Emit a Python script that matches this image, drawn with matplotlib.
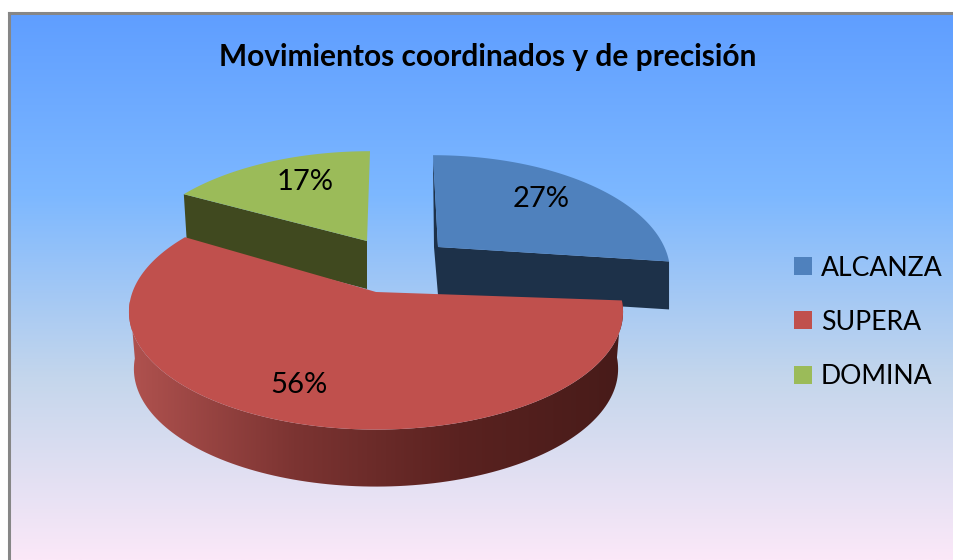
import matplotlib
matplotlib.use("Agg")
import matplotlib.pyplot as plt
import numpy as np
from matplotlib.colors import LinearSegmentedColormap
from matplotlib.patches import Polygon, Rectangle

plt.rcParams["font.family"] = ["Lato", "DejaVu Sans"]

labels = ["ALCANZA", "SUPERA", "DOMINA"]
shares = [27, 56, 17]
colors = ["#4f81bd", "#c0504d", "#9bbb59"]
walls = ["#1d3149", "#c0504d", "#40491f"]

# pie look: offset of each slice and wall height, in pixels
dx = [57, 0, -6]
dy = [-39, 0, -43]
depth = [48, 57, 48]
x_scale = [0.96, 1, 0.975]
apex_off = [(5, 0), (0, 6), (-3, -2)]
cx, cy, rx, ry, k = 376, 286, 241, 112, 0.22

fig = plt.figure(figsize=(9.54, 5.6), dpi=100)
ax = fig.add_axes([0, 0, 1, 1])

bg = LinearSegmentedColormap.from_list("bg", ["#5f9eff", "#7db8ff", "#c4d6ec", "#fbe8f8"])
ramp = np.linspace(0, 1, 256).reshape(-1, 1)
ax.imshow(ramp, cmap=bg, extent=[9, 954, 560, 13], aspect="auto", zorder=0)
ax.plot([9, 9], [560, 13], color="#868686", lw=2.2, zorder=1)
ax.plot([9, 954], [13, 13], color="#868686", lw=2.2, zorder=1)


def arc(a0, a1, i):
    t = np.radians(np.linspace(a0, a1, 150))
    X, Y = np.sin(t), np.cos(t)
    s = 1 / (1 + k * Y)
    return np.column_stack([cx + dx[i] + x_scale[i] * rx * X * s, cy + dy[i] - ry * Y * s])


edges = np.cumsum([0] + shares) * 3.6

# green, blue, then red in front
for i in [2, 0, 1]:
    a0, a1 = edges[i], edges[i + 1]
    rim = arc(a0, a1, i)
    apex = np.array([cx + dx[i] + apex_off[i][0], cy + dy[i] + apex_off[i][1]], dtype=float)
    h = np.array([0, depth[i]])

    if i == 1:
        # outer wall with the dark-to-light shading, only the front part shows
        front = rim[rim[:, 1] > 299]
        lower = front + h
        lower[:, 0] = cx + (lower[:, 0] - cx) * 0.98
        outline = np.vstack([front, lower[::-1]])
        shade = LinearSegmentedColormap.from_list("wall", ["#b0524f", "#7c3432", "#5a2220", "#471b19"])
        im = ax.imshow(np.linspace(0, 1, 256).reshape(1, -1), cmap=shade, aspect="auto",
                       extent=[outline[:, 0].min(), outline[:, 0].max(), 560, 0], zorder=3)
        im.set_clip_path(Polygon(outline, transform=ax.transData))
    elif i == 0:
        cut = np.array([rim[-1], apex, apex + h, rim[-1] + h])
        ax.add_patch(Polygon(cut, fc=walls[i], ec="none", zorder=2))
        ax.add_patch(Polygon(np.array([rim[0], apex, apex + h, apex + [-4, 0]]),
                             fc=walls[i], ec="none", zorder=2))
    else:
        cut = np.array([rim[0], apex, apex + h, rim[0] + h + [3, 0]])
        ax.add_patch(Polygon(cut, fc=walls[i], ec="none", zorder=2))

    top = np.vstack([apex, rim])
    ax.add_patch(Polygon(top, fc=colors[i], ec="none", zorder=4 if i == 1 else 2.5))

pct_pos = [(541, 199), (299, 385), (305, 182)]
for s, (x, y) in zip(shares, pct_pos):
    ax.text(x, y, f"{s}%", fontsize=21, color="black", ha="center", va="center", zorder=6)

ax.text(488, 57, "Movimientos coordinados y de precisión", fontsize=21.5, fontweight="bold",
        color="black", ha="center", va="center", zorder=6)

legend_y = [266, 320, 375]
for name, c, y in zip(labels, colors, legend_y):
    ax.add_patch(Rectangle((794, y - 9), 18, 18, fc=c, ec="none", zorder=6))
    ax.text(821, y + 2, name, fontsize=19.2, color="black", ha="left", va="center", zorder=6)

ax.set_xlim(0, 954)
ax.set_ylim(560, 0)
ax.axis("off")
fig.savefig("out.png", dpi=100, facecolor="white")
